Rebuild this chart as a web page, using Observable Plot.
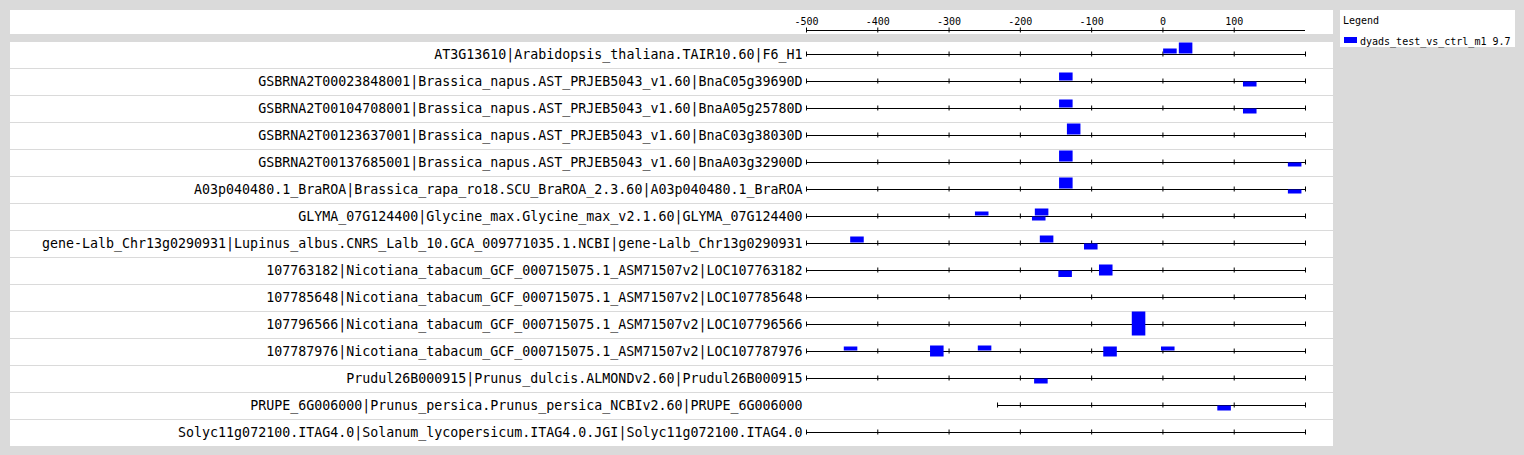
<!DOCTYPE html>
<html>
<head>
<meta charset="utf-8">
<script src="https://cdn.jsdelivr.net/npm/d3@7"></script>
<script src="https://cdn.jsdelivr.net/npm/@observablehq/plot@0.6"></script>
<style>
  html, body { margin: 0; padding: 0; background: #dadada; width: 1524px; height: 455px; overflow: hidden; font-family: "DejaVu Sans Mono", monospace; }
  #axis { position: absolute; left: 10px; top: 10px; width: 1323px; height: 24px; background: #fff; }
  #rows { position: absolute; left: 10px; top: 42px; width: 1323px; height: 405px;
          background: repeating-linear-gradient(to bottom, #fff 0px, #fff 26px, #dadada 26px, #dadada 27px); }
  #legend { position: absolute; left: 1340px; top: 10px; width: 175px; height: 37px; background: #fff; color: #000; font-size: 10px; }
  #legend .title { position: absolute; left: 3px; top: 5px; line-height: 12px; white-space: nowrap; }
  #legend .swatch { position: absolute; left: 4px; top: 27px; width: 13px; height: 6px; background: #0000ff; }
  #legend .label { position: absolute; left: 20px; top: 26px; line-height: 12px; white-space: nowrap; }
  svg { display: block; }
</style>
</head>
<body>
<div id="axis"></div>
<div id="rows"></div>
<div id="legend"><span class="title">Legend</span><span class="swatch"></span><span class="label">dyads_test_vs_ctrl_m1 9.7</span></div>
<script>
// ---- data ----
const genes = [
  "AT3G13610|Arabidopsis_thaliana.TAIR10.60|F6_H1",
  "GSBRNA2T00023848001|Brassica_napus.AST_PRJEB5043_v1.60|BnaC05g39690D",
  "GSBRNA2T00104708001|Brassica_napus.AST_PRJEB5043_v1.60|BnaA05g25780D",
  "GSBRNA2T00123637001|Brassica_napus.AST_PRJEB5043_v1.60|BnaC03g38030D",
  "GSBRNA2T00137685001|Brassica_napus.AST_PRJEB5043_v1.60|BnaA03g32900D",
  "A03p040480.1_BraROA|Brassica_rapa_ro18.SCU_BraROA_2.3.60|A03p040480.1_BraROA",
  "GLYMA_07G124400|Glycine_max.Glycine_max_v2.1.60|GLYMA_07G124400",
  "gene-Lalb_Chr13g0290931|Lupinus_albus.CNRS_Lalb_10.GCA_009771035.1.NCBI|gene-Lalb_Chr13g0290931",
  "107763182|Nicotiana_tabacum_GCF_000715075.1_ASM71507v2|LOC107763182",
  "107785648|Nicotiana_tabacum_GCF_000715075.1_ASM71507v2|LOC107785648",
  "107796566|Nicotiana_tabacum_GCF_000715075.1_ASM71507v2|LOC107796566",
  "107787976|Nicotiana_tabacum_GCF_000715075.1_ASM71507v2|LOC107787976",
  "Prudul26B000915|Prunus_dulcis.ALMONDv2.60|Prudul26B000915",
  "PRUPE_6G006000|Prunus_persica.Prunus_persica_NCBIv2.60|PRUPE_6G006000",
  "Solyc11g072100.ITAG4.0|Solanum_lycopersicum.ITAG4.0.JGI|Solyc11g072100.ITAG4.0"
];
const lineStarts = [-500, -500, -500, -500, -500, -500, -500, -500, -500, -500, -500, -500, -500, -232, -500];
const lineEnd = 200;
const tickValues = [-500, -400, -300, -200, -100, 0, 100];
const tickLabels = ["-500", "-400", "-300", "-200", "-100", "0", "100"];
const motifLength = 19;
const siteRow   = [0, 0, 1, 1, 2, 2, 3, 4, 4, 5, 5, 6, 6, 6, 7, 7, 7, 8, 8, 10, 11, 11, 11, 11, 11, 12, 13];
const siteStart = [1, 23, -145, 113, -145, 113, -134, -145, 176, -145, 176, -263, -179, -183, -438, -172, -110, -146, -89, -43, -447, -326, -259, -83, -2, -180, 77];
const siteAbove = [5.5, 11.5, 8.5, 0, 8.5, 0, 11.5, 11.5, 0, 11.5, 0, 4.5, 7.5, 0, 6.5, 7.5, 0, 0, 5.5, 12.5, 4.5, 5.5, 5.5, 4.5, 4.5, 0, 0];
const siteBelow = [0, 0, 0, 5.5, 0, 5.5, 0, 0, 4.5, 0, 4.5, 0, 0, 4.5, 0, 0, 6.5, 7, 5.5, 11.5, 0, 5.5, 0, 5.5, 0, 5.5, 5.5];

// ---- derived tables ----
const lines = genes.map((g, i) => ({gene: g, x1: lineStarts[i], x2: lineEnd}));
const ticks = genes.flatMap((g, i) => {
  const s = lineStarts[i];
  const vs = [s, ...tickValues.filter(v => v > s), lineEnd];
  return Array.from(new Set(vs), x => ({gene: g, x}));
});
const rects = [];
siteRow.forEach((r, i) => {
  const g = genes[r], s = siteStart[i], a = siteAbove[i], b = siteBelow[i];
  if (a > 0) rects.push({gene: g, x1: s, x2: s + motifLength, y1: b > 0 ? 0 : 0.5, y2: a});
  if (b > 0) rects.push({gene: g, x1: s, x2: s + motifLength, y1: a > 0 ? 0 : -0.5, y2: -b});
});

// ---- top axis ----
const axisPlot = Plot.plot({
  width: 1323, height: 24,
  marginLeft: 796, marginRight: 28, marginTop: 0, marginBottom: 0,
  x: {domain: [-500, lineEnd], axis: null},
  y: {domain: [-4, 20], axis: null},
  style: {fontFamily: "DejaVu Sans Mono", fontSize: "10px", background: "#fff", color: "#000", overflow: "visible"},
  marks: [
    Plot.ruleY([0], {stroke: "#000"}),
    Plot.ruleX(tickValues, {x: d => d, y1: -2.5, y2: 2.5, stroke: "#000"}),
    Plot.text(tickValues, {x: d => d, y: 9, text: (d, i) => tickLabels[i], fill: "#000"})
  ]
});
document.getElementById("axis").appendChild(axisPlot);

// ---- rows ----
const hasAxisMarks = typeof Plot.axisFy === "function";
const rowMarks = [
  Plot.ruleY(lines, {fy: "gene", y: 0, x1: "x1", x2: "x2", stroke: "#000"}),
  Plot.ruleX(ticks, {fy: "gene", x: "x", y1: -2.5, y2: 2.5, stroke: "#000"}),
  Plot.rect(rects, {fy: "gene", x1: "x1", x2: "x2", y1: "y1", y2: "y2", fill: "#0000ff"})
];
if (hasAxisMarks) rowMarks.unshift(Plot.axisFy({anchor: "left", tickSize: 0, tickPadding: 4, dy: -1.5, label: null, fill: "#000"}));
const rowsPlot = Plot.plot({
  width: 1323, height: 405,
  marginLeft: 796, marginRight: 28, marginTop: 0, marginBottom: 0,
  x: {domain: [-500, lineEnd], axis: null},
  y: {domain: [-15, 12], axis: null},
  fy: hasAxisMarks ? {domain: genes, padding: 0, axis: null}
                   : {domain: genes, padding: 0, axis: "left", tickSize: 0, tickPadding: 4, label: null},
  style: {fontFamily: "DejaVu Sans Mono", fontSize: "13.3px", background: "transparent", color: "#000", overflow: "visible"},
  marks: rowMarks
});
document.getElementById("rows").appendChild(rowsPlot);
</script>
</body>
</html>
